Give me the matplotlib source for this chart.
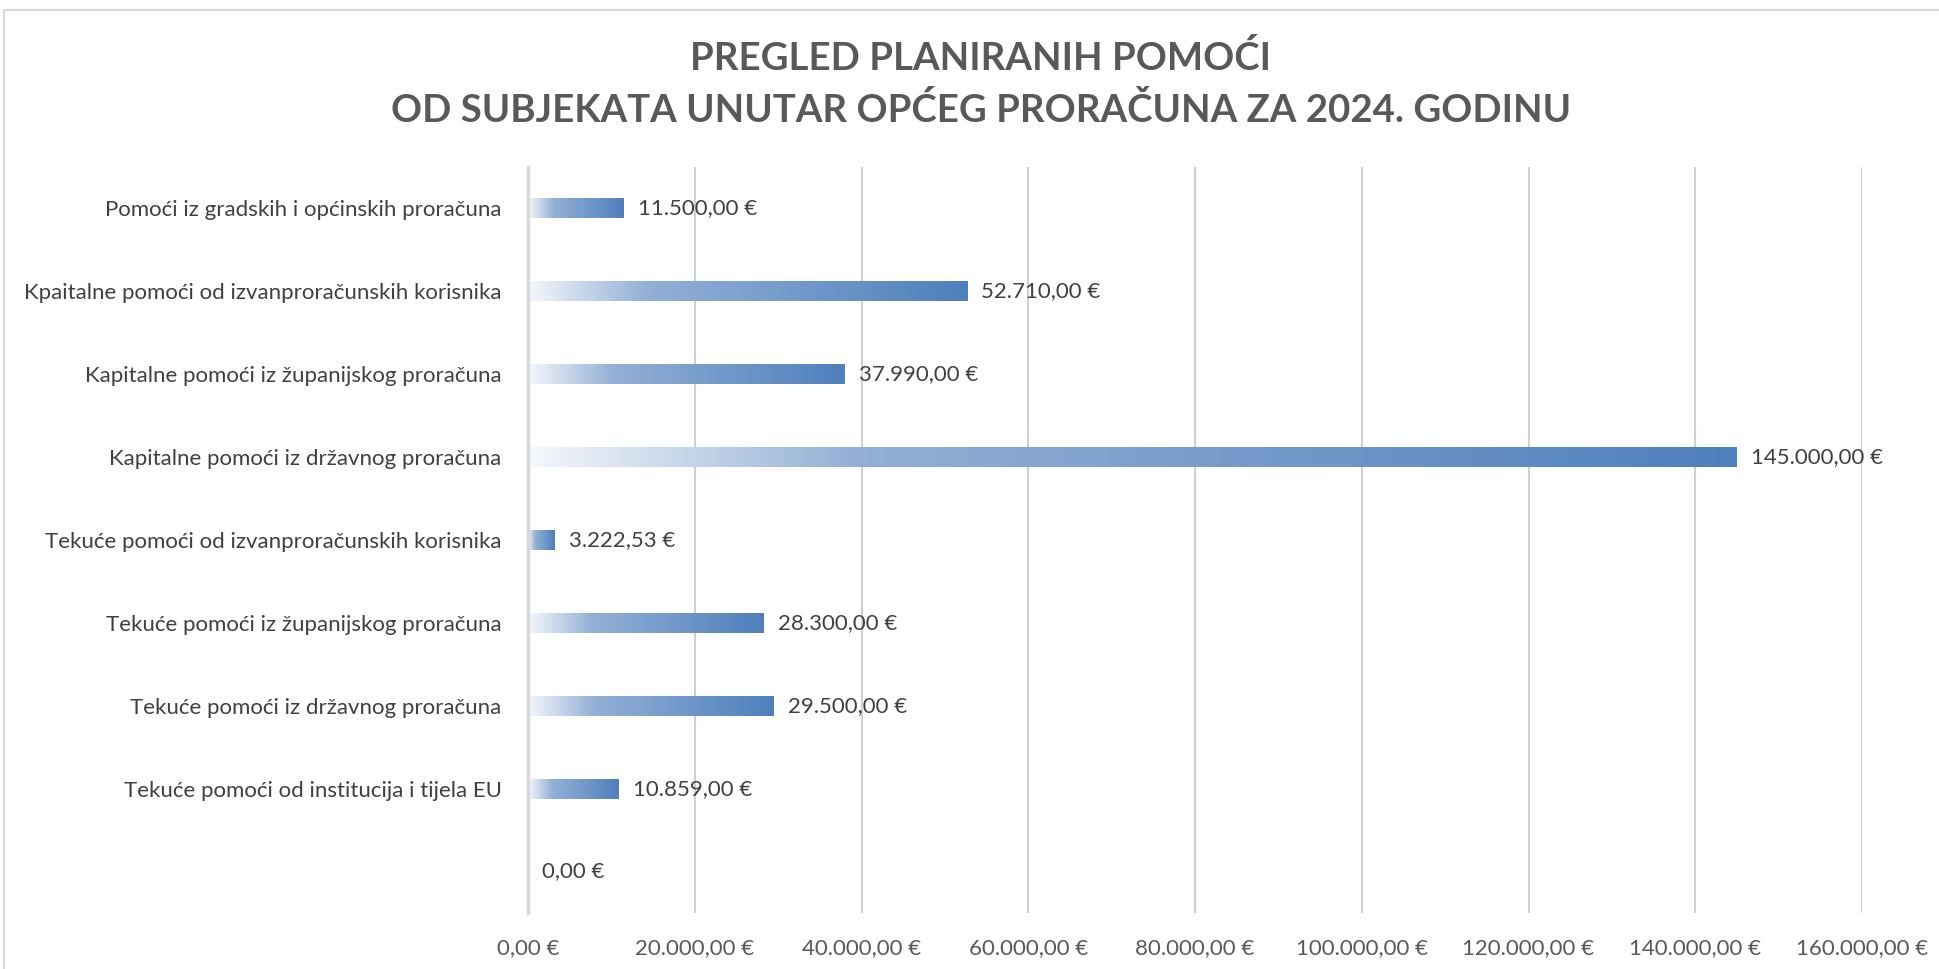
import matplotlib
matplotlib.use("Agg")
import matplotlib.pyplot as plt
import numpy as np
from matplotlib.colors import LinearSegmentedColormap
from matplotlib.patches import Rectangle

categories = [
    "Pomoći iz gradskih i općinskih proračuna",
    "Kpaitalne pomoći od izvanproračunskih korisnika",
    "Kapitalne pomoći iz županijskog proračuna",
    "Kapitalne pomoći iz državnog proračuna",
    "Tekuće pomoći od izvanproračunskih korisnika",
    "Tekuće pomoći iz županijskog proračuna",
    "Tekuće pomoći iz državnog proračuna",
    "Tekuće pomoći od institucija i tijela EU",
    "",
]
values = [11500.00, 52710.00, 37990.00, 145000.00, 3222.53, 28300.00, 29500.00, 10859.00, 0.00]
xticks = [0, 20000, 40000, 60000, 80000, 100000, 120000, 140000, 160000]
title_lines = ["PREGLED PLANIRANIH POMOĆI", "OD SUBJEKATA UNUTAR OPĆEG PRORAČUNA ZA 2024. GODINU"]


def eur(v):
    s = f"{v:,.2f}"
    s = s.replace(",", "X").replace(".", ",").replace("X", ".")
    return s + " €"


plt.rcParams['font.family'] = ['Lato', 'DejaVu Sans']

W, H = 1939, 969
fig = plt.figure(figsize=(W / 100, H / 100), dpi=100)
fig.patch.set_facecolor("white")

# outer chart border
fig.add_artist(Rectangle((4 / W, -0.02), 1.05, 1 - 10 / H + 0.02, transform=fig.transFigure,
                         fill=False, edgecolor="#d9d9d9", linewidth=1.5))

ax = fig.add_axes([528 / W, 1 - 913 / H, (1862 - 528) / W, (913 - 167) / H])

cmap = LinearSegmentedColormap.from_list(
    "grad", [(0.0, "#f4f7fb"), (0.27, "#93b0d6"), (1.0, "#4e80bd")])
grad = np.linspace(0, 1, 256).reshape(1, -1)

ypos = np.arange(len(categories))
bars = ax.barh(ypos, values, height=0.24, color="none", edgecolor="none", zorder=3)
for b, v in zip(bars, values):
    if b.get_width() > 0:
        ax.imshow(grad, cmap=cmap, aspect="auto", interpolation="bilinear",
                  extent=[b.get_x(), b.get_x() + b.get_width(),
                          b.get_y() + b.get_height(), b.get_y()],
                  zorder=3)
    ax.annotate(eur(v), xy=(b.get_x() + b.get_width(), b.get_y() + b.get_height() / 2),
                xytext=(14, 0), textcoords="offset pixels", ha="left", va="center",
                fontsize=16, color="#404040")

ax.set_xlim(0, 160000)
ax.set_ylim(len(categories) - 0.5, -0.5)
ax.set_yticks(ypos)
ax.set_yticklabels(categories, fontsize=16, color="#404040")
ax.set_xticks(xticks)
ax.set_xticklabels([eur(t) for t in xticks], fontsize=16, color="#595959")
ax.tick_params(axis="both", length=0)
ax.tick_params(axis="y", pad=19)
ax.tick_params(axis="x", pad=18)
ax.grid(axis="x", color="#d0d0d0", linewidth=1.5, zorder=0)
ax.set_axisbelow(True)
for s in ["top", "right", "bottom"]:
    ax.spines[s].set_visible(False)
ax.spines["left"].set_color("#d9d9d9")
ax.spines["left"].set_linewidth(2.5)
ax.spines["left"].set_zorder(4)

fig.text(0.5058, 1 - 58 / H, title_lines[0], ha="center", va="center",
         fontsize=27.6, fontweight="bold", color="#595959")
fig.text(0.5058, 1 - 110 / H, title_lines[1], ha="center", va="center",
         fontsize=27.6, fontweight="bold", color="#595959")

fig.savefig("out.png", dpi=100, facecolor="white")
